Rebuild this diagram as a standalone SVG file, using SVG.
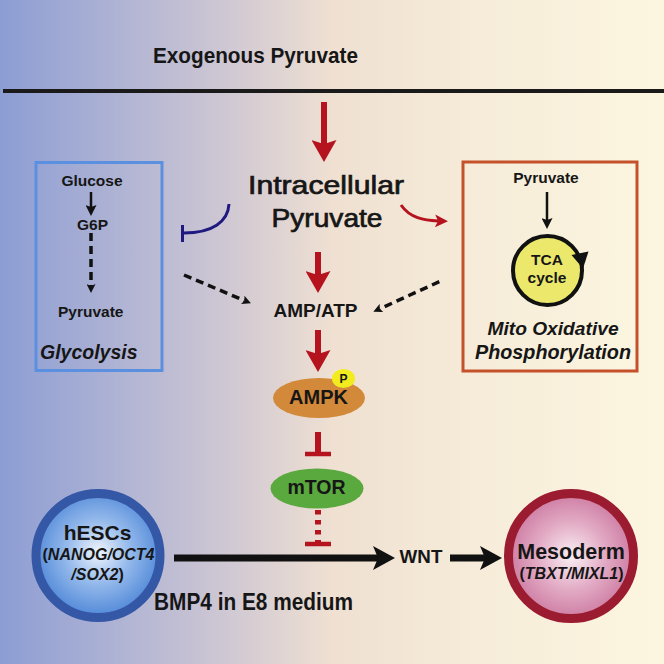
<svg xmlns="http://www.w3.org/2000/svg" width="664" height="664" viewBox="0 0 664 664">
<defs>
<linearGradient id="bg" x1="0" y1="0" x2="1" y2="0">
<stop offset="0" stop-color="#8c9dd4"/>
<stop offset="0.33" stop-color="#cdc6d3"/>
<stop offset="0.5" stop-color="#efe0d2"/>
<stop offset="0.72" stop-color="#f6ecd9"/>
<stop offset="1" stop-color="#fcf6e0"/>
</linearGradient>
<radialGradient id="gBlue" cx="50%" cy="47%" r="55%">
<stop offset="0" stop-color="#f0f5fc"/>
<stop offset="0.45" stop-color="#97bbec"/>
<stop offset="1" stop-color="#4a84d6"/>
</radialGradient>
<radialGradient id="gPink" cx="50%" cy="50%" r="55%">
<stop offset="0" stop-color="#f9eff4"/>
<stop offset="0.5" stop-color="#e2aac4"/>
<stop offset="1" stop-color="#c9739c"/>
</radialGradient>
<marker id="mRed" markerUnits="userSpaceOnUse" markerWidth="22" markerHeight="25" viewBox="0 0 22 25" refX="4" refY="12.5" orient="auto">
<path d="M0,0 L22,12.5 L0,25 L4,12.5 z" fill="#b5141f"/>
</marker>
<marker id="mRedS" markerUnits="userSpaceOnUse" markerWidth="13" markerHeight="13" viewBox="0 0 13 13" refX="3" refY="6.5" orient="auto">
<path d="M0,0 L13,6.5 L0,13 L3,6.5 z" fill="#b5141f"/>
</marker>
<marker id="mBig" markerUnits="userSpaceOnUse" markerWidth="22" markerHeight="24" viewBox="0 0 22 24" refX="5" refY="12" orient="auto">
<path d="M0,0 L22,12 L0,24 L5,12 z" fill="#111"/>
</marker>
<marker id="mSmall" markerUnits="userSpaceOnUse" markerWidth="11" markerHeight="11" viewBox="0 0 11 11" refX="2" refY="5.5" orient="auto">
<path d="M0,0 L11,5.5 L0,11 L2,5.5 z" fill="#111"/>
</marker>
<marker id="mDash" markerUnits="userSpaceOnUse" markerWidth="9" markerHeight="9" viewBox="0 0 9 9" refX="2" refY="4.5" orient="auto">
<path d="M0,0 L9,4.5 L0,9 L2,4.5 z" fill="#111"/>
</marker>
</defs>
<style>
text{font-family:"Liberation Sans",Arial,sans-serif;fill:#161616;text-anchor:middle}
.b{font-weight:bold}
.bi{font-weight:bold;font-style:italic}
.red{stroke:#b5141f;fill:none}
.blk{stroke:#111;fill:none}
.dash{stroke:#111;fill:none;stroke-width:3.5;stroke-dasharray:8 5}
</style>
<rect x="0" y="0" width="664" height="664" fill="url(#bg)"/>

<g id="title">
<text class="b" x="255.5" y="63" font-size="22" textLength="205" lengthAdjust="spacingAndGlyphs">Exogenous Pyruvate</text>
<line x1="3" y1="91" x2="664" y2="91" stroke="#1a1a1a" stroke-width="4"/>
</g>

<g id="intracellular">
<text x="326" y="194" font-size="26" stroke="#161616" stroke-width="0.7" textLength="156" lengthAdjust="spacingAndGlyphs">Intracellular</text>
<text x="327" y="226.5" font-size="26" stroke="#161616" stroke-width="0.7" textLength="111" lengthAdjust="spacingAndGlyphs">Pyruvate</text>
</g>

<g id="glycolysis">
<rect x="36" y="162.5" width="126" height="208" fill="none" stroke="#5b8fe0" stroke-width="3"/>
<text class="b" x="92" y="185.5" font-size="15.5">Glucose</text>
<text class="b" x="92.5" y="229.5" font-size="15.5">G6P</text>
<text class="b" x="90.7" y="316.5" font-size="15.5">Pyruvate</text>
<text class="bi" x="40" y="358.5" font-size="19.5" style="text-anchor:start">Glycolysis</text>
<line class="blk" x1="91" y1="192" x2="91" y2="207" stroke-width="2.5" marker-end="url(#mSmall)"/>
<line class="dash" x1="91" y1="233" x2="91" y2="286" marker-end="url(#mDash)"/>
</g>

<g id="oxphos">
<rect x="463" y="162" width="174" height="209" fill="none" stroke="#c4512a" stroke-width="3"/>
<text class="b" x="546" y="182.5" font-size="15.5">Pyruvate</text>
<line class="blk" x1="547" y1="192" x2="547" y2="220" stroke-width="2.5" marker-end="url(#mSmall)"/>
<circle cx="547.5" cy="270.5" r="34.5" fill="#ece86b" stroke="#111" stroke-width="4"/>
<polygon points="571.5,255 588.5,251.5 583,268.5" fill="#111"/>
<text class="b" x="547" y="265" font-size="15.5">TCA</text>
<text class="b" x="547" y="283" font-size="15.5">cycle</text>
<text class="bi" x="553" y="334.5" font-size="19.2">Mito Oxidative</text>
<text class="bi" x="553" y="358.5" font-size="19.8">Phosphorylation</text>
</g>

<g id="ampatp">
<text class="b" x="315.5" y="316.5" font-size="19">AMP/ATP</text>
</g>

<g id="ampk">
<ellipse cx="319" cy="398" rx="46" ry="20" fill="#d3893a"/>
<text class="b" x="318.5" y="403.5" font-size="20">AMPK</text>
<ellipse cx="343.5" cy="378.5" rx="11.5" ry="9.5" fill="#f2ec1f"/>
<text class="b" x="343.5" y="383" font-size="12">P</text>
</g>

<g id="mtor">
<ellipse cx="317" cy="488.5" rx="46.5" ry="20" fill="#5aa93e"/>
<text class="b" x="316.5" y="493.5" font-size="19.5">mTOR</text>
</g>

<g id="hescs">
<circle cx="98" cy="555.5" r="62" fill="url(#gBlue)" stroke="#3457a6" stroke-width="9"/>
<text class="b" x="97.5" y="540" font-size="21">hESCs</text>
<text x="98.5" y="560" font-size="16"><tspan class="b">(</tspan><tspan class="bi">NANOG/OCT4</tspan></text>
<text x="97.5" y="580" font-size="16"><tspan class="bi">/SOX2</tspan><tspan class="b">)</tspan></text>
</g>

<g id="wnt">
<text class="b" x="421" y="562.5" font-size="18.8">WNT</text>
</g>

<g id="mesoderm">
<circle cx="571" cy="556" r="62.5" fill="url(#gPink)" stroke="#9b1b30" stroke-width="9"/>
<text class="b" x="571" y="558.5" font-size="21.5">Mesoderm</text>
<text x="571.5" y="579" font-size="16"><tspan class="b">(</tspan><tspan class="bi">TBXT/MIXL1</tspan><tspan class="b">)</tspan></text>
</g>

<g id="medium">
<text class="b" x="253.5" y="610" font-size="24" textLength="199" lengthAdjust="spacingAndGlyphs">BMP4 in E8 medium</text>
</g>

<g id="connectors">
<line class="red" x1="324" y1="102" x2="324" y2="144" stroke-width="6" marker-end="url(#mRed)"/>
<line class="red" x1="318" y1="252" x2="318" y2="275" stroke-width="6" marker-end="url(#mRed)"/>
<line class="red" x1="318" y1="330" x2="318" y2="354" stroke-width="6" marker-end="url(#mRed)"/>
<path class="red" d="M401,205 C410,218 424,220.5 438,221" stroke-width="3" marker-end="url(#mRedS)"/>
<path d="M229,204 C228,222 212,233 184,233" fill="none" stroke="#1e1a80" stroke-width="3"/>
<line x1="182.5" y1="225" x2="182.5" y2="242" stroke="#1e1a80" stroke-width="3"/>
<line class="dash" x1="184" y1="275" x2="244.5" y2="300.6" marker-end="url(#mDash)"/>
<line class="dash" x1="439.3" y1="281.7" x2="379.7" y2="308.8" marker-end="url(#mDash)"/>
<line class="red" x1="318" y1="432" x2="318" y2="453" stroke-width="6"/>
<line class="red" x1="305" y1="454" x2="331" y2="454" stroke-width="4.5"/>
<line class="red" x1="318" y1="510" x2="318" y2="542" stroke-width="6" stroke-dasharray="4.5 5.5"/>
<line class="red" x1="305" y1="544" x2="331" y2="544" stroke-width="4.5"/>
<line class="blk" x1="174" y1="558" x2="378" y2="558" stroke-width="7" marker-end="url(#mBig)"/>
<line class="blk" x1="450" y1="558" x2="485" y2="558" stroke-width="7" marker-end="url(#mBig)"/>
</g>
</svg>
